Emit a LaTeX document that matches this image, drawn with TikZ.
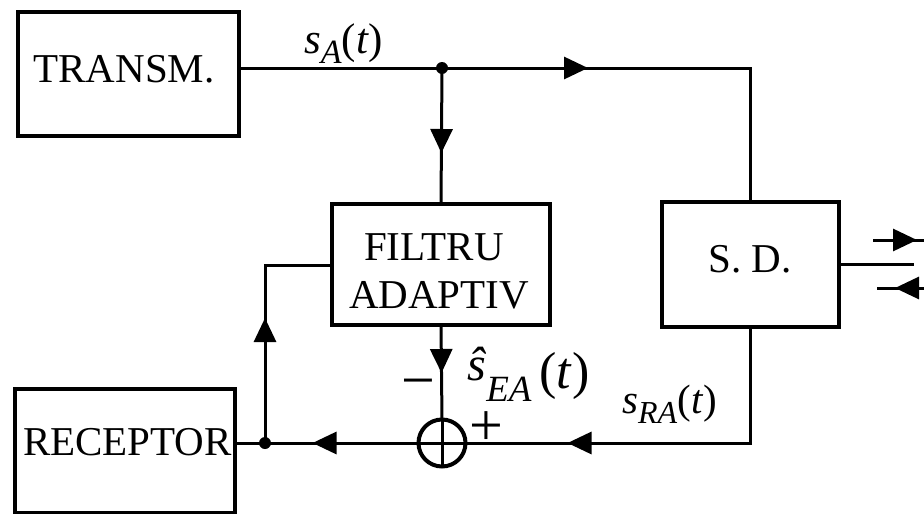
\documentclass[tikz,border=0pt]{standalone}
\usepackage{fontspec}
\setmainfont{Liberation Serif}
\usetikzlibrary{arrows.meta,decorations.markings}
\tikzset{
  blk/.style={draw, rectangle, line width=4pt, inner sep=0pt, outer sep=0pt},
  wire/.style={line width=3pt},
  txt/.style={inner sep=0pt, anchor=base, font=\fontsize{41}{48}\selectfont},
  lbl/.style={inner sep=0pt, anchor=base west},
  sgn/.style={inner sep=0pt, font=\fontsize{60}{60}\selectfont},
  tipat/.style={postaction={decorate, decoration={markings,
      mark=at position #1 with {\arrow{Triangle[length=24pt,width=22pt]}}}}},
  dotnode/.style={circle, fill, inner sep=0pt, minimum size=12pt},
}
\begin{document}
\begin{tikzpicture}[x=1pt,y=-1pt]
\useasboundingbox (0,0) rectangle (924,514);
\clip (0,0) rectangle (924,514);
% blocks
\node[blk, minimum width=220.5pt, minimum height=124pt] (transm) at (128.25,73.5) {};
\node[blk, minimum width=219.5pt, minimum height=124pt] (recv) at (124.75,451) {};
\node[blk, minimum width=218pt, minimum height=121pt] (filt) at (441,264.5) {};
\node[blk, minimum width=177pt, minimum height=125pt] (sd) at (750.5,264.5) {};
\node[circle, draw, line width=4pt, minimum size=47pt, inner sep=0pt, outer sep=0pt] (sum) at (442,443) {};
% texts
\node[txt] (tT) at (124,82) {TRANSM.};
\node[txt] (tR) at (127.5,455) {RECEPTOR};
\node[txt] (tS) at (750,272) {S. D.};
\node[txt] (tF1) at (434,260) {FILTRU};
\node[txt] (tF2) at (439,308) {ADAPTIV};
% junctions and corners
\node[dotnode] (j1) at (442,68) {};
\node[dotnode] (j2) at (265,443) {};
\coordinate (c1) at (750.5,68);
\coordinate (c2) at (750.5,443);
\coordinate (c3) at (265,265);
\coordinate (e1) at (914,264.5);
\coordinate (a1) at (873,240);
\coordinate (a2) at (930,240);
\coordinate (b1) at (930,288);
\coordinate (b2) at (877,288);
% connectors
\draw[wire] (j1 -| transm.east) -- (j1.center);
\draw[wire, tipat=146pt] (j1.center) -- (c1) -- (sd.north);
\draw[wire, tipat=85pt] (j1.center) -- (filt.north);
\draw[wire, tipat=299pt] (sd.south) -- (c2) -- (sum.east);
\draw[wire, tipat=48pt] (filt.south) -- (sum.north);
\draw[wire, tipat=106pt] (sum.west) -- (j2.center);
\draw[wire] (j2.center) -- (recv.east |- j2);
\draw[wire, tipat=125pt] (j2.center) -- (c3) -- (filt.west |- c3);
\draw[wire] (sd.east) -- (e1);
\draw[wire, tipat=44pt] (a1) -- (a2);
\draw[wire, tipat=35pt] (b1) -- (b2);
% summing cross
\draw[wire] (sum.north) -- (sum.south) (sum.west) -- (sum.east);
% signs
\node[sgn] (minus) at (418,390) {−};
\node[sgn] (plus) at (486,429) {+};
% signal labels
\node[lbl] (lA) at (304,53) {\fontsize{43}{43}\selectfont\textit{s}\raisebox{-10pt}{\fontsize{34}{34}\selectfont\textit{A}}(\textit{t})};
\node[lbl] (lEA) at (467,380) {\fontsize{48}{48}\selectfont\textit{ŝ}\raisebox{-21pt}{\fontsize{37}{37}\selectfont\textit{EA}}\,\raisebox{-8pt}{\fontsize{52}{52}\selectfont(\textit{t})}};
\node[lbl] (lRA) at (622,413) {\fontsize{41}{41}\selectfont\textit{s}\raisebox{-10pt}{\fontsize{32}{32}\selectfont\textit{RA}}(\textit{t})};
\end{tikzpicture}
\end{document}
